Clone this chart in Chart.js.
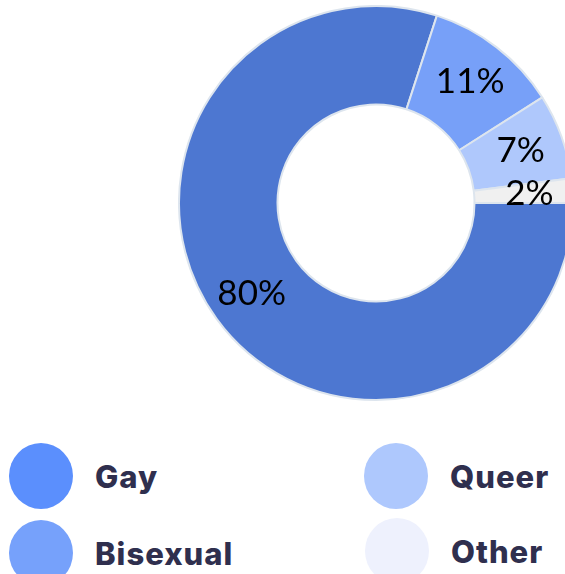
<!DOCTYPE html>
<html>
<head>
<meta charset="utf-8">
<script src="https://cdn.jsdelivr.net/npm/chart.js@4/dist/chart.umd.min.js"></script>
<style>
  html, body { margin: 0; padding: 0; background: #fff; width: 565px; height: 574px; overflow: hidden; }
  #wrap { position: absolute; left: 178px; top: 5px; width: 396px; height: 396px; }
  .legend { position: absolute; left: 0; top: 0; font-family: "Inter", "Lato", sans-serif; font-weight: 800; color: #2f2f4e; font-size: 31px; letter-spacing: 1px; }
  .item { position: absolute; display: flex; align-items: center; white-space: nowrap; }
  .dot { width: 64px; height: 66px; border-radius: 50%; margin-right: 22px; }
</style>
</head>
<body>
<div id="wrap"><canvas id="donut"></canvas></div>
<div class="legend" id="legend"></div>
<script>
// data
var labels = ["Gay", "Bisexual", "Queer", "Other"];
var values = [80, 11, 7, 2];
var sliceColors = ["#4d77d1", "#77a0f8", "#afc8fc", "#f0f0f0"];
var legendColors = ["#5b8ffd", "#76a1fb", "#aec8fd", "#eef1fd"];

// percentage labels on the ring, a bit outside the middle of the band
var pctLabels = {
  id: "pctLabels",
  afterDatasetsDraw: function(chart) {
    var ctx = chart.ctx;
    var meta = chart.getDatasetMeta(0);
    ctx.save();
    ctx.font = "400 35px 'Lato', 'Open Sans', sans-serif";
    ctx.fillStyle = "#000";
    ctx.textAlign = "center";
    ctx.textBaseline = "middle";
    meta.data.forEach(function(arc, i) {
      var mid = (arc.startAngle + arc.endAngle) / 2;
      var r = arc.innerRadius + (arc.outerRadius - arc.innerRadius) * 0.56;
      ctx.fillText(values[i] + "%", arc.x + Math.cos(mid) * r, arc.y + Math.sin(mid) * r);
    });
    ctx.restore();
  }
};

new Chart("donut", {
  type: "doughnut",
  data: {
    labels: labels,
    datasets: [{
      data: values,
      backgroundColor: sliceColors,
      borderColor: "#dde5ee",
      borderWidth: 2
    }]
  },
  options: {
    responsive: true,
    maintainAspectRatio: false,
    animation: false,
    rotation: 90,
    cutout: "50%",
    plugins: {
      legend: { display: false },
      tooltip: { enabled: false }
    }
  },
  plugins: [pctLabels]
});

// legend, two columns
var legend = document.getElementById("legend");
var spots = [[9, 443], [9, 520], [364, 443], [365, 518]];
labels.forEach(function(name, i) {
  var it = document.createElement("div");
  it.className = "item";
  it.style.left = spots[i][0] + "px";
  it.style.top = spots[i][1] + "px";
  it.innerHTML = '<span class="dot" style="background:' + legendColors[i] + '"></span><span>' + name + '</span>';
  legend.appendChild(it);
});
</script>
</body>
</html>
